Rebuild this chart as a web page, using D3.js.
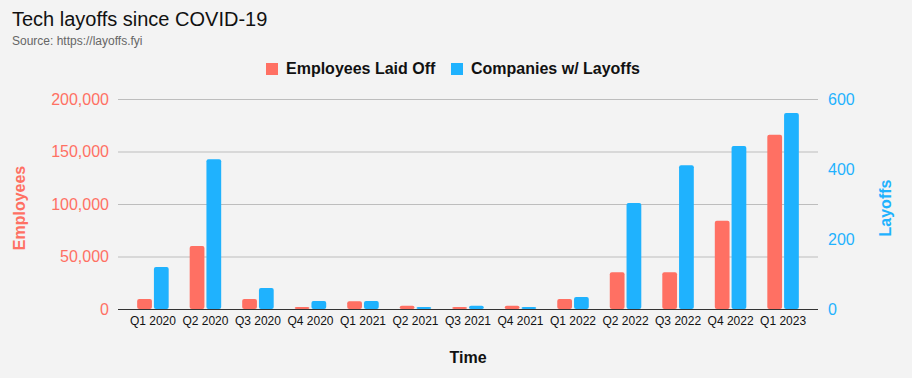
<!DOCTYPE html>
<html>
<head>
<meta charset="utf-8">
<script src="https://cdn.jsdelivr.net/npm/d3@7"></script>
<style>
  body { margin: 0; background: #f3f3f3; }
  svg { display: block; font-family: Arial, "Liberation Sans", sans-serif; }
</style>
</head>
<body>
<svg id="chart"></svg>
<script>
var quarters = ["Q1 2020", "Q2 2020", "Q3 2020", "Q4 2020", "Q1 2021", "Q2 2021", "Q3 2021",
                "Q4 2021", "Q1 2022", "Q2 2022", "Q3 2022", "Q4 2022", "Q1 2023"];
var employees = [9500, 60000, 9500, 2000, 7500, 3000, 2000, 3000, 9500, 35000, 35000, 84000, 166000];
var companies = [120, 428, 60, 23, 23, 6, 9, 6, 34, 303, 411, 466, 560];
var leftTicks = [0, 50000, 100000, 150000, 200000];
var rightTicks = [0, 200, 400, 600];

var screen = {width: 912, height: 378};
var plot = {left: 118, right: 818, top: 99, bottom: 309};
var red = "#ff7063", blue = "#1fb2fe";

var svg = d3.select("#chart")
    .attr("width", screen.width)
    .attr("height", screen.height);

svg.append("rect").attr("width", screen.width).attr("height", screen.height).attr("fill", "#f3f3f3");

// title + source
svg.append("text").attr("x", 12).attr("y", 26)
    .attr("font-size", 20).attr("fill", "#111")
    .text("Tech layoffs since COVID-19");
svg.append("text").attr("x", 12).attr("y", 45)
    .attr("font-size", 12).attr("fill", "#666")
    .text("Source: https://layoffs.fyi");

// legend
var legend = [{name: "Employees Laid Off", color: red, x: 266},
              {name: "Companies w/ Layoffs", color: blue, x: 451}];
var lg = svg.selectAll(".legend").data(legend).enter().append("g")
    .attr("transform", function(d){ return "translate(" + d.x + ",63)"; });
lg.append("rect").attr("width", 12).attr("height", 12).attr("fill", function(d){ return d.color; });
lg.append("text").attr("x", 20).attr("y", 11)
    .attr("font-size", 16).attr("font-weight", "bold").attr("fill", "#111")
    .text(function(d){ return d.name; });

// scales
var x0 = d3.scaleBand().domain(quarters)
    .range([plot.left, plot.right])
    .paddingInner(0.4).paddingOuter(0.365);
var x1 = d3.scaleBand().domain(["emp", "comp"])
    .range([0, x0.bandwidth()]).paddingInner(0.12);
var yL = d3.scaleLinear().domain([0, 200000]).range([plot.bottom, plot.top]);
var yR = d3.scaleLinear().domain([0, 600]).range([plot.bottom, plot.top]);

// left axis with gridlines
var gl = svg.append("g").attr("transform", "translate(" + plot.left + ",0)")
    .call(d3.axisLeft(yL).tickValues(leftTicks).tickSize(-(plot.right - plot.left)).tickPadding(9)
        .tickFormat(d3.format(",")));
gl.select(".domain").remove();
gl.selectAll(".tick line").attr("stroke", "#bdbdbd");
gl.selectAll(".tick text").attr("fill", red).attr("font-size", 16).attr("font-family", null);

// right axis
var gr = svg.append("g").attr("transform", "translate(" + plot.right + ",0)")
    .call(d3.axisRight(yR).tickValues(rightTicks).tickSize(0).tickPadding(10));
gr.select(".domain").remove();
gr.selectAll(".tick text").attr("fill", blue).attr("font-size", 16).attr("font-family", null);

// bars
var rows = quarters.map(function(q, i){ return {q: q, emp: employees[i], comp: companies[i]}; });
var groups = svg.append("g").selectAll("g").data(rows).enter().append("g")
    .attr("transform", function(d){ return "translate(" + x0(d.q) + ",0)"; });
groups.append("rect")
    .attr("x", x1("emp")).attr("width", x1.bandwidth())
    .attr("y", function(d){ return yL(d.emp); })
    .attr("height", function(d){ return yL(0) - yL(d.emp); })
    .attr("rx", 2).attr("fill", red);
groups.append("rect")
    .attr("x", x1("comp")).attr("width", x1.bandwidth())
    .attr("y", function(d){ return yR(d.comp); })
    .attr("height", function(d){ return yR(0) - yR(d.comp); })
    .attr("rx", 2).attr("fill", blue);

// x axis
var gx = svg.append("g").attr("transform", "translate(0," + plot.bottom + ")")
    .call(d3.axisBottom(x0).tickSize(0).tickPadding(7));
gx.select(".domain").remove();
gx.selectAll(".tick text").attr("fill", "#111").attr("font-size", 12).attr("font-family", null);
svg.append("line")
    .attr("x1", plot.left).attr("x2", plot.right)
    .attr("y1", plot.bottom + 0.5).attr("y2", plot.bottom + 0.5)
    .attr("stroke", "#333");

// axis titles
svg.append("text").attr("transform", "translate(19,208) rotate(-90)")
    .attr("text-anchor", "middle").attr("dominant-baseline", "central")
    .attr("font-size", 16).attr("font-weight", "bold").attr("fill", red)
    .text("Employees");
svg.append("text").attr("transform", "translate(885,208) rotate(-90)")
    .attr("text-anchor", "middle").attr("dominant-baseline", "central")
    .attr("font-size", 16).attr("font-weight", "bold").attr("fill", blue)
    .text("Layoffs");
svg.append("text").attr("x", 468).attr("y", 363)
    .attr("text-anchor", "middle")
    .attr("font-size", 16).attr("font-weight", "bold").attr("fill", "#111")
    .text("Time");
</script>
</body>
</html>
